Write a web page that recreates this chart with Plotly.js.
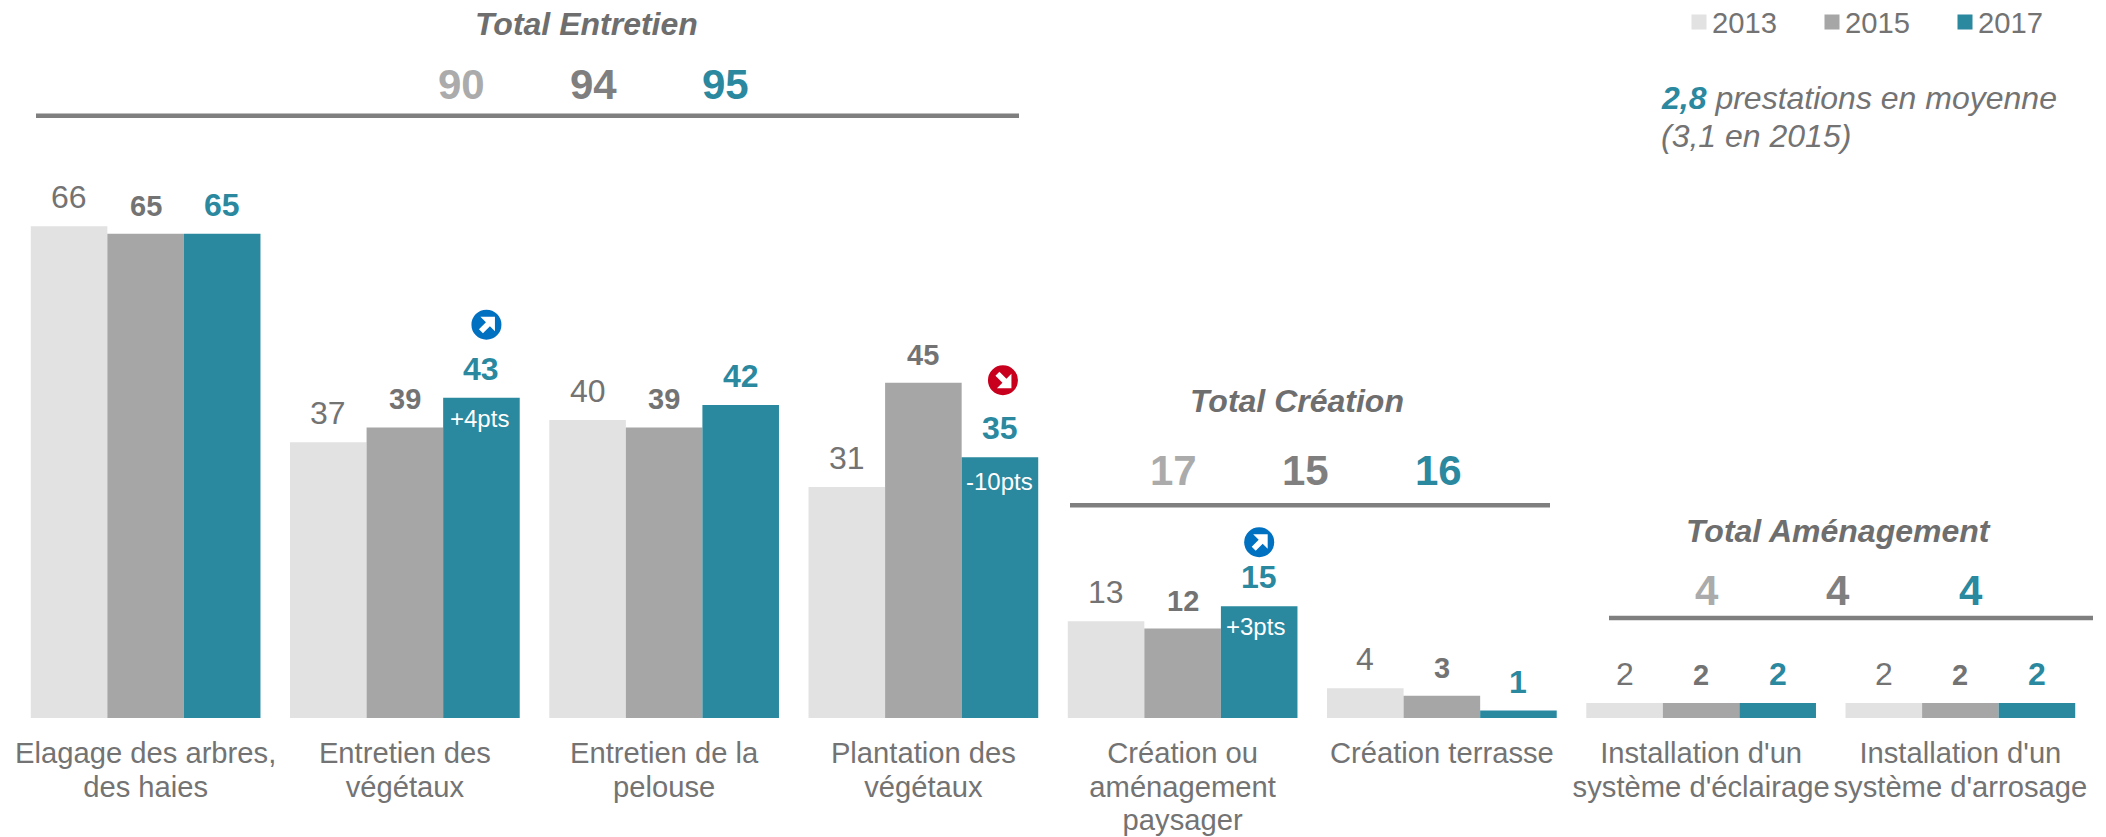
<!DOCTYPE html>
<html><head><meta charset="utf-8">
<script src="https://cdn.plot.ly/plotly-3.0.1.min.js"></script>
<style>html,body{margin:0;padding:0;background:#fff}</style></head>
<body><div id="chart" style="width:2106px;height:837px"></div>
<script>
// ---- data ----
const categories = ["Elagage des arbres,<br>des haies","Entretien des<br>végétaux","Entretien de la<br>pelouse","Plantation des<br>végétaux","Création ou<br>aménagement<br>paysager","Création terrasse","Installation d'un<br>système d'éclairage","Installation d'un<br>système d'arrosage"];
const years = ["2013","2015","2017"];
const values2013 = [66,37,40,31,13,4,2,2];
const values2015 = [65,39,39,45,12,3,2,2];
const values2017 = [65,43,42,35,15,1,2,2];
const diffLabels = [
  {cat:1, text:"+4pts", dir:"up"},
  {cat:3, text:"-10pts", dir:"down"},
  {cat:4, text:"+3pts", dir:"up"}
];
const totalTitles = ["Total Entretien","Total Création","Total Aménagement"];
const totals2013 = [90,17,4];
const totals2015 = [94,15,4];
const totals2017 = [95,16,4];

// ---- style ----
const colors = ["#e2e2e2","#a6a6a6","#2a889f"];
const labelColors = ["#737373","#737373","#2a889f"];
const totalColors = ["#ababab","#7f7f7f","#2a889f"];
const FONT = "Liberation Sans, Arial, sans-serif";
const W=2106,H=837,ML=16,MR=16,MT=0,MB=119,BARGAP=0.114;
const barUnit=(1-BARGAP)/3;
const px=x=>(x-ML)/(W-ML-MR), py=y=>1-(y-MT)/(H-MT-MB);
const series=[values2013,values2015,values2017];

const traces=series.map((v,s)=>({type:"bar",name:years[s],x:categories,y:v,
  marker:{color:colors[s],line:{width:0}},hoverinfo:"skip"}));

const annotations=[],shapes=[];
const note=(o)=>annotations.push(Object.assign({showarrow:false,font:{family:FONT}},o));

// value labels
const labelFont=[{size:32,weight:400},{size:29,weight:700},{size:32,weight:700}];
const labelShift=[29,28,29];
series.forEach((v,s)=>v.forEach((val,i)=>note({
  xref:"x",yref:"y",x:i+(s-1)*barUnit,y:val,yshift:labelShift[s],yanchor:"middle",xanchor:"center",
  text:String(val),font:{family:FONT,size:labelFont[s].size,weight:labelFont[s].weight,color:labelColors[s]}
})));

// diff labels + arrows
const arrowUp="M-6,8 L8.5,8 L8.5,-6.5 L3.5,-1.5 L-3.5,-8.5 L-7.5,-4.5 L-0.5,2.5 Z";
const arrowDown="M-6,-8 L8.5,-8 L8.5,6.5 L3.5,1.5 L-3.5,8.5 L-7.5,4.5 L-0.5,-2.5 Z";
const diffXShift={1:-2,3:0,4:-4}, diffYShift={1:-21,3:-24,4:-20}, iconShift={1:73,3:77,4:64}, iconX={1:5,3:3,4:0};
diffLabels.forEach(d=>{
  const val=values2017[d.cat], cx=d.cat+barUnit;
  note({xref:"x",yref:"y",x:cx,y:val,xshift:diffXShift[d.cat],yshift:diffYShift[d.cat],yanchor:"middle",xanchor:"center",
    text:d.text,font:{family:FONT,size:24,color:"#ffffff"}});
  const common={xref:"x",yref:"y",xsizemode:"pixel",ysizemode:"pixel",xanchor:cx,yanchor:val};
  const ox=iconX[d.cat], oy=iconShift[d.cat];
  shapes.push(Object.assign({},common,{type:"circle",x0:ox-15,x1:ox+15,y0:oy-15,y1:oy+15,
    fillcolor:d.dir==="up"?"#0070c0":"#c8001e",line:{width:0}}));
  const path=(d.dir==="up"?arrowUp:arrowDown).replace(/(-?[\d.]+),(-?[\d.]+)/g,(m,a,b)=>(+a+ox)+","+(+b+oy));
  shapes.push(Object.assign({},common,{type:"path",path:path,fillcolor:"#ffffff",line:{width:0}}));
});

// totals
const titlePos=[[586,24],[1296.5,400.7],[1838,530.7]];
const totalPos=[[[461.5,593,725],84],[[1173,1305,1438.6],470],[[1706.6,1838,1971],590.7]];
const rulePos=[[36,1019,115.7],[1070,1550,505.3],[1609,2093,618]];
totalTitles.forEach((t,g)=>{
  note({xref:"paper",yref:"paper",x:px(titlePos[g][0]),y:py(titlePos[g][1]),xanchor:"center",yanchor:"middle",
    text:"<b><i>"+t+"</i></b>",font:{family:FONT,size:32,color:"#6e6e6e"}});
  [totals2013,totals2015,totals2017].forEach((arr,s)=>note({xref:"paper",yref:"paper",x:px(totalPos[g][0][s]),y:py(totalPos[g][1]),
    xanchor:"center",yanchor:"middle",text:"<b>"+arr[g]+"</b>",font:{family:FONT,size:42,color:totalColors[s]}}));
  shapes.push({type:"line",xref:"paper",yref:"paper",x0:px(rulePos[g][0]),x1:px(rulePos[g][1]),y0:py(rulePos[g][2]),y1:py(rulePos[g][2]),
    line:{color:"#7f7f7f",width:4.5}});
});

// side note
note({xref:"paper",yref:"paper",x:px(1659),y:py(98),xanchor:"left",yanchor:"middle",
  text:'<b><i><span style="color:#2a889f">2,8</span></i></b><i> prestations en moyenne</i>',font:{family:FONT,size:32,color:"#737373"}});
note({xref:"paper",yref:"paper",x:px(1659),y:py(135.7),xanchor:"left",yanchor:"middle",
  text:'<i>(3,1 en 2015)</i>',font:{family:FONT,size:32,color:"#737373"}});

const layout={
  width:W,height:H,margin:{l:ML,r:MR,t:MT,b:MB,pad:0},
  paper_bgcolor:"#fff",plot_bgcolor:"#fff",
  font:{family:FONT,color:"#737373"},
  barmode:"group",bargap:BARGAP,bargroupgap:0,
  xaxis:{type:"category",range:[-0.5,7.5],tickangle:0,ticklen:0,showline:false,showgrid:false,zeroline:false,
    automargin:false,tickfont:{family:FONT,size:29.2,color:"#737373"},ticklabelstandoff:15},
  yaxis:{range:[0,718/7.45],visible:false,fixedrange:true},
  legend:{orientation:"h",x:px(1672),y:py(2),xanchor:"left",yanchor:"top",entrywidth:88,entrywidthmode:"pixels",
    traceorder:"normal",font:{family:FONT,size:29.2,color:"#737373"},bgcolor:"rgba(0,0,0,0)",itemclick:false,itemdoubleclick:false},
  annotations:annotations,shapes:shapes,showlegend:true
};
Plotly.newPlot("chart",traces,layout,{displayModeBar:false,staticPlot:true}).then(gd=>{
  // Tighter line spacing for the multi-line category labels
  gd.querySelectorAll(".xtick text tspan.line").forEach(t=>{
    const d=parseFloat(t.getAttribute("dy"));
    if(!isNaN(d)) t.setAttribute("dy",(d/1.3*1.15)+"em");
  });
  // Legend: larger swatches closer to their text, slightly higher block
  gd.querySelectorAll(".legend .legendbar path, .legend .legendpoints path").forEach(p=>{
    p.setAttribute("d","M7.5,7.5H-7.5V-7.5H7.5Z");
    p.setAttribute("transform","translate(27,0)");
  });
  const lg=gd.querySelector(".legend");
  const m=/translate\(([-\d.]+)[ ,]+([-\d.]+)\)/.exec(lg.getAttribute("transform")||"");
  if(m) lg.setAttribute("transform","translate("+m[1]+","+(parseFloat(m[2])-5.5)+")");
});
</script></body></html>
